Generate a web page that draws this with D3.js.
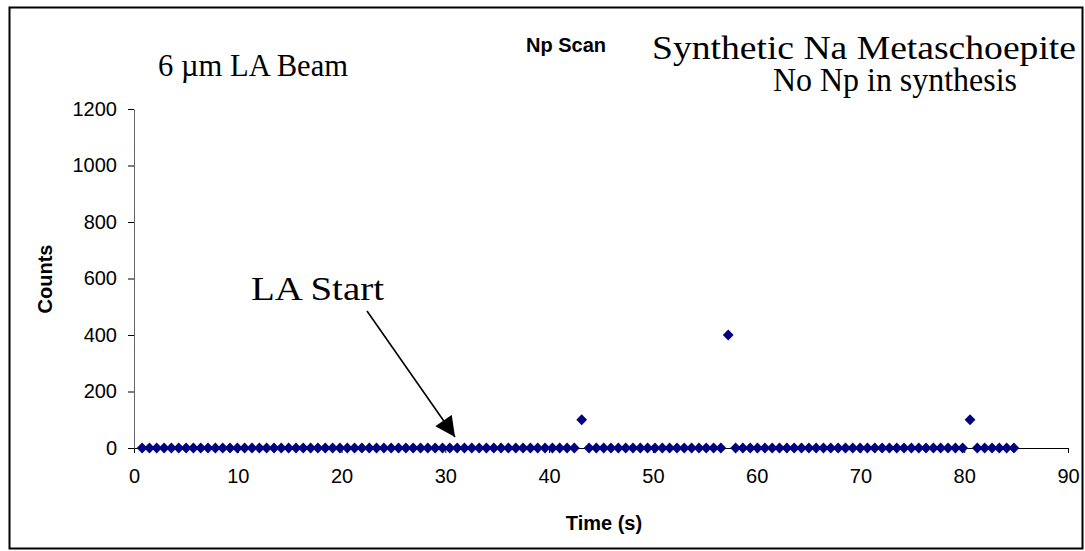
<!DOCTYPE html>
<html>
<head>
<meta charset="utf-8">
<script src="https://cdn.jsdelivr.net/npm/d3@7"></script>
<style>
  body { margin: 0; background: #fff; }
  svg { display: block; }
</style>
</head>
<body>
<svg id="plot1" style="width:1085px;height:551px"></svg>
<script>
// sample times (s) of the Np scan
var times = [0.78, 1.49, 2.19, 2.90, 3.60, 4.31, 5.02, 5.72, 6.43, 7.13,
    7.84, 8.55, 9.25, 9.96, 10.66, 11.37, 12.08, 12.78, 13.49, 14.19,
    14.90, 15.61, 16.31, 17.02, 17.72, 18.43, 19.14, 19.84, 20.55, 21.25,
    21.96, 22.67, 23.37, 24.08, 24.78, 25.49, 26.20, 26.90, 27.61, 28.31,
    29.02, 29.73, 30.43, 31.14, 31.84, 32.55, 33.26, 33.96, 34.67, 35.37,
    36.08, 36.79, 37.49, 38.20, 38.90, 39.61, 40.32, 41.02, 41.73, 42.43,
    43.14, 43.85, 44.55, 45.26, 45.96, 46.67, 47.38, 48.08, 48.79, 49.49,
    50.20, 50.91, 51.61, 52.32, 53.02, 53.73, 54.44, 55.14, 55.85, 56.55,
    57.26, 57.97, 58.67, 59.38, 60.08, 60.79, 61.50, 62.20, 62.91, 63.61,
    64.32, 65.03, 65.73, 66.44, 67.14, 67.85, 68.56, 69.26, 69.97, 70.67,
    71.38, 72.09, 72.79, 73.50, 74.20, 74.91, 75.62, 76.32, 77.03, 77.73,
    78.44, 79.15, 79.85, 80.56, 81.26, 81.97, 82.68, 83.38, 84.09, 84.79];

var counts = [0, 0, 0, 0, 0, 0, 0, 0, 0, 0,
    0, 0, 0, 0, 0, 0, 0, 0, 0, 0,
    0, 0, 0, 0, 0, 0, 0, 0, 0, 0,
    0, 0, 0, 0, 0, 0, 0, 0, 0, 0,
    0, 0, 0, 0, 0, 0, 0, 0, 0, 0,
    0, 0, 0, 0, 0, 0, 0, 0, 0, 0,
    100, 0, 0, 0, 0, 0, 0, 0, 0, 0,
    0, 0, 0, 0, 0, 0, 0, 0, 0, 0,
    400, 0, 0, 0, 0, 0, 0, 0, 0, 0,
    0, 0, 0, 0, 0, 0, 0, 0, 0, 0,
    0, 0, 0, 0, 0, 0, 0, 0, 0, 0,
    0, 0, 0, 100, 0, 0, 0, 0, 0, 0];

var xTicks = [0, 10, 20, 30, 40, 50, 60, 70, 80, 90];
var yTicks = [0, 200, 400, 600, 800, 1000, 1200];

function makeChart(){
    var svg = d3.select("#plot1");
    var container = svg.append("g");

    var data = times.map(function(t, i){ return {time: t, count: counts[i]}; });
    var sans = "'Liberation Sans', Arial, sans-serif";
    var serif = "'Liberation Serif', 'Times New Roman', serif";

    // outer frame
    container.append("rect")
        .attr("x", 9.5)
        .attr("y", 7.5)
        .attr("width", 1073)
        .attr("height", 541)
        .attr("fill", "none")
        .attr("stroke", "#000")
        .attr("stroke-width", 2);

    var xScale = d3.scaleLinear()
        .domain([0, 90])
        .range([134, 1068]);

    var yScale = d3.scaleLinear()
        .domain([0, 1200])
        .range([448, 109]);

    var xAxis = container.append("g")
        .attr("transform", "translate(0," + yScale(0) + ")")
        .call(d3.axisBottom(xScale).tickValues(xTicks).tickFormat(d3.format("d"))
            .tickSize(5).tickSizeOuter(0).tickPadding(16));

    var yAxis = container.append("g")
        .attr("transform", "translate(" + xScale(0) + ",0)")
        .call(d3.axisLeft(yScale).tickValues(yTicks).tickFormat(d3.format("d"))
            .tickSize(6).tickSizeOuter(0).tickPadding(11));

    [xAxis, yAxis].forEach(function(ax){
        ax.selectAll("text")
            .attr("fill", "#000")
            .style("font-family", sans)
            .style("font-size", "20px");
        ax.selectAll("line").attr("stroke", "#000");
    });
    xAxis.select(".domain").attr("stroke", "#000");
    yAxis.select(".domain").attr("stroke", "#666");

    // markers
    var diamond = d3.symbol().type(d3.symbolSquare).size(58);
    container.append("g").selectAll("path")
        .data(data)
        .enter()
        .append("path")
        .attr("d", diamond)
        .attr("fill", "#000080")
        .attr("transform", function(d){
            return "translate(" + xScale(d.time) + "," + yScale(d.count) + ") rotate(45)";
        });

    // axis titles
    container.append("text")
        .attr("x", 604)
        .attr("y", 530)
        .attr("text-anchor", "middle")
        .style("font-family", sans)
        .style("font-size", "20px")
        .style("font-weight", "bold")
        .text("Time (s)");

    container.append("text")
        .attr("transform", "translate(52,279) rotate(-90)")
        .attr("text-anchor", "middle")
        .style("font-family", sans)
        .style("font-size", "20px")
        .style("font-weight", "bold")
        .text("Counts");

    // titles and notes
    container.append("text")
        .attr("x", 566)
        .attr("y", 52)
        .attr("text-anchor", "middle")
        .style("font-family", sans)
        .style("font-size", "20px")
        .style("font-weight", "bold")
        .text("Np Scan");

    container.append("text")
        .attr("x", 158)
        .attr("y", 76)
        .attr("textLength", 190)
        .attr("lengthAdjust", "spacingAndGlyphs")
        .style("font-family", serif)
        .style("font-size", "31px")
        .text("6 \u00b5m LA Beam");

    container.append("text")
        .attr("x", 652)
        .attr("y", 59)
        .attr("textLength", 424)
        .attr("lengthAdjust", "spacingAndGlyphs")
        .style("font-family", serif)
        .style("font-size", "34px")
        .text("Synthetic Na Metaschoepite");

    container.append("text")
        .attr("x", 773)
        .attr("y", 91)
        .attr("textLength", 244)
        .attr("lengthAdjust", "spacingAndGlyphs")
        .style("font-family", serif)
        .style("font-size", "34px")
        .text("No Np in synthesis");

    container.append("text")
        .attr("x", 251)
        .attr("y", 300)
        .attr("textLength", 133)
        .attr("lengthAdjust", "spacingAndGlyphs")
        .style("font-family", serif)
        .style("font-size", "33px")
        .text("LA Start");

    // arrow
    svg.append("defs").append("marker")
        .attr("id", "arrowhead")
        .attr("viewBox", "0 0 10 10")
        .attr("refX", 10)
        .attr("refY", 5)
        .attr("markerWidth", 22)
        .attr("markerHeight", 20)
        .attr("markerUnits", "userSpaceOnUse")
        .attr("orient", "auto")
        .append("path")
        .attr("d", "M0,0L10,5L0,10Z")
        .attr("fill", "#000");

    container.append("line")
        .attr("x1", 367)
        .attr("y1", 311)
        .attr("x2", 455)
        .attr("y2", 437)
        .attr("stroke", "#000")
        .attr("stroke-width", 1.6)
        .attr("marker-end", "url(#arrowhead)");
}

makeChart();
</script>
</body>
</html>
